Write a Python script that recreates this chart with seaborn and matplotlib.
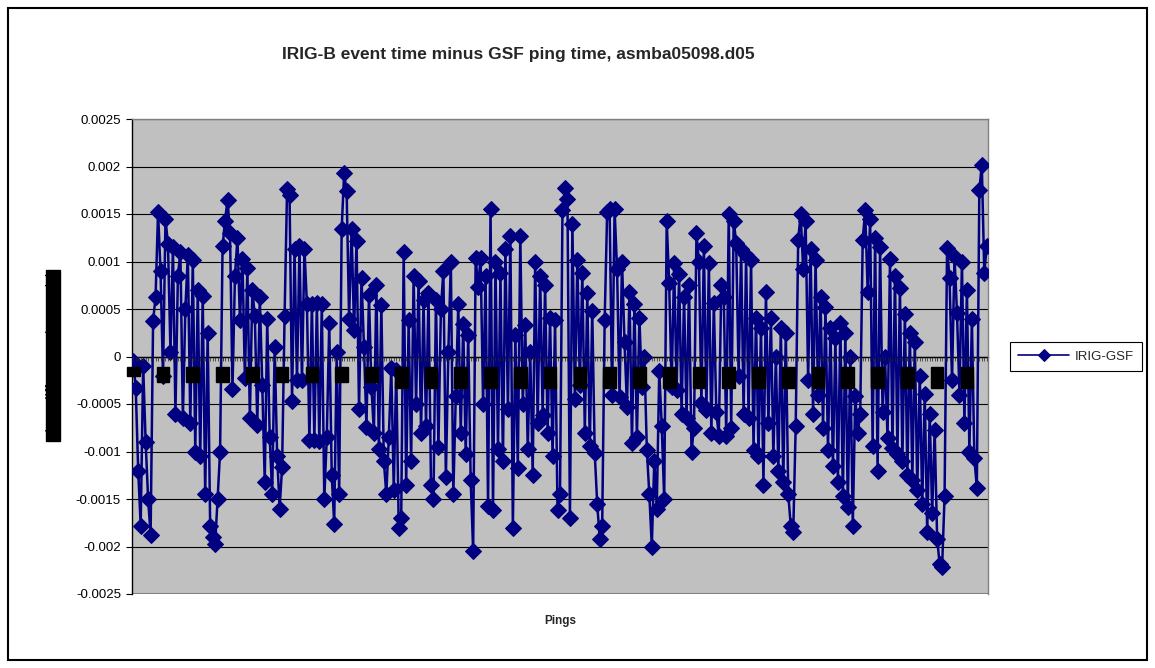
import numpy as np
import pandas as pd
import matplotlib
matplotlib.use("Agg")
import matplotlib.pyplot as plt
import seaborn as sns
from matplotlib.patches import Rectangle

# IRIG-B event time minus GSF ping time in units of 1e-4 s
offset_e4 = [
    # pings 1-33
    -0.5, -3.3, -12.0, -17.8, -1.0, -9.0, -15.0, -18.8,
    3.7, 6.3, 15.2, 9.0, -2.0, 14.5, 11.8, 0.5, 11.5, -6.0, 8.5, 11.0, -6.5, 5.0, 10.7,
    -7.0, 10.2, -10.0, 7.0, -10.5, 6.4, -14.5, 2.5, -17.8, -19.0,
    # pings 34-78
    -19.7, -15.0, -10.0, 11.6, 14.3, 16.5, 13.0, -3.4, 8.5, 12.5, 3.8, 10.3, -2.3, 9.3,
    -6.5, 7.0, 4.3, -7.2, 6.3, -3.0, -13.2, 3.9, -8.5, -14.5, 1.0, -10.5, -16.0, -11.6,
    4.3, 17.6, 17.0, -4.7, 11.3, -2.5, 11.6, -2.5, 11.3, 5.5, -8.8, 5.5, -8.8, 5.6, -8.9,
    5.5, -15.0,
    # pings 79-122
    -8.5, 3.5, -12.5, -17.6, 0.5, -14.5, 13.4, 19.3, 17.4, 4.0, 13.4, 2.8, 12.2, -5.5,
    8.3, 1.0, -7.4, 6.5, -3.2, -8.0, 7.5, -9.7, 5.4, -11.0, -14.5, -8.5, -1.2, -14.0,
    -1.4, -18.0, -17.0, 11.0, -13.5, 3.8, -11.0, 8.5, -5.0, 8.0, -8.0, 6.0, -7.3, 6.7,
    -13.5, -15.0,
    # pings 123-166
    6.0, -9.5, 5.0, 9.0, -12.7, 0.5, 10.0, -14.5, -4.2, 5.5, -8.0, 3.4, -10.3, 2.3,
    -13.0, -20.5, 10.4, 7.3, 10.4, -5.0, 8.5, -15.7, 15.5, -16.2, 10.0, -9.7, 8.8, -11.0,
    11.3, -5.5, 12.7, -18.0, 2.3, -11.7, 12.7, -5.0, 3.3, -9.7, 0.5, -12.5, 10.0, -7.0,
    8.5, -6.2,
    # pings 167-210
    7.5, -8.1, 4.1, -10.5, 3.8, -16.2, -14.5, 15.4, 17.7, 16.6, -17.0, 13.9, -4.5, 10.2,
    -3.0, 8.8, -8.0, 6.7, -9.4, 4.8, -10.2, -15.5, -19.2, -17.8, 3.8, 15.2, 15.5, -4.0,
    15.5, 9.2, -4.3, 10.0, 1.5, -5.3, 6.8, -9.1, 5.5, -8.5, 4.1, -3.2, 0.0, -9.8, -14.5,
    -20.0,
    # pings 211-254
    -11.0, -16.0, -1.5, -7.3, -15.0, 14.3, 7.7, -3.2, 9.8, -3.5, 8.7, -6.0, 6.3, -6.5,
    7.5, -10.0, -7.5, 13.0, 10.0, -4.9, 11.6, -5.6, 9.8, -8.1, 5.6, -5.8, -8.4, 7.5, 6.3,
    -8.4, 15.0, -7.5, 14.3, 12.0, -2.0, 11.3, -6.0, 10.7, -6.5, 10.2, -9.8, 4.1, -10.5,
    3.0,
    # pings 255-296
    -13.5, 6.8, -7.0, 4.1, -10.5, 0.0, -12.0, 3.0, -13.2, 2.5, -14.5, -17.8, -18.5, -7.3,
    12.3, 15.0, 9.2, 14.3, -2.5, 11.3, -6.0, 10.2, -4.0, 6.3, -7.5, 5.2, -9.8, 3.0, -11.5,
    2.0, -13.2, 3.5, -14.7, 2.5, -15.8, 0.0, -17.8, -4.2, -8.0, -6.0, 12.3, 15.4,
    # pings 297-345
    6.8, 14.5, -9.4, 12.5, -12.0, 11.5, -5.8, 0.0, -8.6, 10.3, -9.6, 8.5, -10.3, 7.2,
    -11.0, 4.5, -12.5, 2.5, -13.0, 1.5, -14.0, -2.0, -15.5, -3.9, -18.5, -6.0, -16.5,
    -7.7, -19.2, -21.8, -22.2, -14.7, 11.4, 8.3, -2.5, 10.5, 4.6, -4.0, 10.0, -7.0, 7.0,
    -10.0, 3.9, -10.7, -13.8, 17.5, 20.2, 8.8, 11.6,
]

y_ticks = [-0.0025, -0.002, -0.0015, -0.001, -0.0005, 0, 0.0005, 0.001, 0.0015, 0.002, 0.0025]
y_tick_labels = ["-0.0025", "-0.002", "-0.0015", "-0.001", "-0.0005", "0",
                 "0.0005", "0.001", "0.0015", "0.002", "0.0025"]
label_step = 12

irig_gsf = np.array(offset_e4) * 1e-4
pings = np.arange(1, len(irig_gsf) + 1)
df = pd.DataFrame({"Ping": pings, "IRIG-GSF": irig_gsf})

sns.set_style("white")
plt.rcParams["font.family"] = ["Liberation Sans", "DejaVu Sans"]

W, H = 1155, 668
fig = plt.figure(figsize=(W / 100, H / 100), dpi=100)
fig.patch.set_facecolor("white")

# chart area frame
fig.patches.append(Rectangle((8 / W, 8 / H), (1147 - 8) / W, (660 - 8) / H,
                             transform=fig.transFigure, fill=False,
                             edgecolor="black", linewidth=1.5))

ax = fig.add_axes([132 / W, 1 - 594 / H, (988 - 132) / W, (594 - 119) / H])
ax.set_facecolor("#C0C0C0")

for yv in y_ticks:
    ax.axhline(yv, color="black", linewidth=0.8, zorder=0)

sns.lineplot(data=df, x="Ping", y="IRIG-GSF", ax=ax, color="#000080",
             linewidth=1.8, marker="D", markersize=8.5,
             markeredgecolor="#000080", markerfacecolor="#000080",
             label="IRIG-GSF", zorder=3)

ax.set_xlim(0.5, len(pings) + 0.5)
ax.set_ylim(-0.0025, 0.0025)
ax.set_yticks(y_ticks)
ax.set_yticklabels(y_tick_labels)

for side in ["top", "right"]:
    ax.spines[side].set_color("#808080")
    ax.spines[side].set_linewidth(1)
ax.spines["left"].set_color("black")
ax.spines["left"].set_linewidth(1)
ax.spines["bottom"].set_position(("data", 0))
ax.spines["bottom"].set_color("black")
ax.spines["bottom"].set_linewidth(1)
ax.spines["bottom"].set_zorder(2)
ax.axhline(-0.0025, color="#808080", linewidth=1.5, zorder=1)

ax.tick_params(axis="y", which="major", left=True, direction="out", length=4,
               width=0.8, pad=4, labelsize=9.5, colors="black")

tick_pings = list(range(1, len(pings) + 1, label_step))
ax.set_xticks(tick_pings)
ax.set_xticklabels([str(p) for p in tick_pings])
ax.set_xticks(pings, minor=True)
ax.tick_params(axis="x", which="major", bottom=True, direction="out", length=3,
               width=0.6, pad=5.5, labelsize=8)
ax.tick_params(axis="x", which="minor", bottom=True, direction="out", length=3,
               width=0.5)
for lbl in ax.get_xticklabels():
    lbl.set_rotation(90)
    lbl.set_va("top")
    lbl.set_color("black")
    lbl.set_bbox(dict(facecolor="black", edgecolor="black", pad=1))
# category labels sit on top of the series, like the original
ax.xaxis.set_zorder(5)

ax.set_xlabel("")
ax.set_ylabel("")

fig.text(518 / W, 1 - 55 / H, "IRIG-B event time minus GSF ping time, asmba05098.d05",
         ha="center", va="center", fontsize=12.5, fontweight="bold")
fig.text(560 / W, 1 - 621 / H, "Pings", ha="center", va="center",
         fontsize=8.5, fontweight="bold")
fig.text(53 / W, 1 - 355.5 / H, "Time difference (seconds)", rotation=90,
         ha="center", va="center", fontsize=10.5, color="black",
         bbox=dict(facecolor="black", edgecolor="black", pad=0.3))

leg = ax.legend(loc="center left", bbox_to_anchor=(1010 / W, 1 - 356.5 / H),
                bbox_transform=fig.transFigure, frameon=True, fancybox=False,
                edgecolor="black", framealpha=1, fontsize=9.5, handlelength=3.9,
                handletextpad=0.4, borderpad=0.6, borderaxespad=0)
leg.get_frame().set_linewidth(0.8)
for h in leg.legend_handles:
    h.set_markersize(6)
    h.set_linewidth(1.2)

fig.savefig("out.png", dpi=100)
